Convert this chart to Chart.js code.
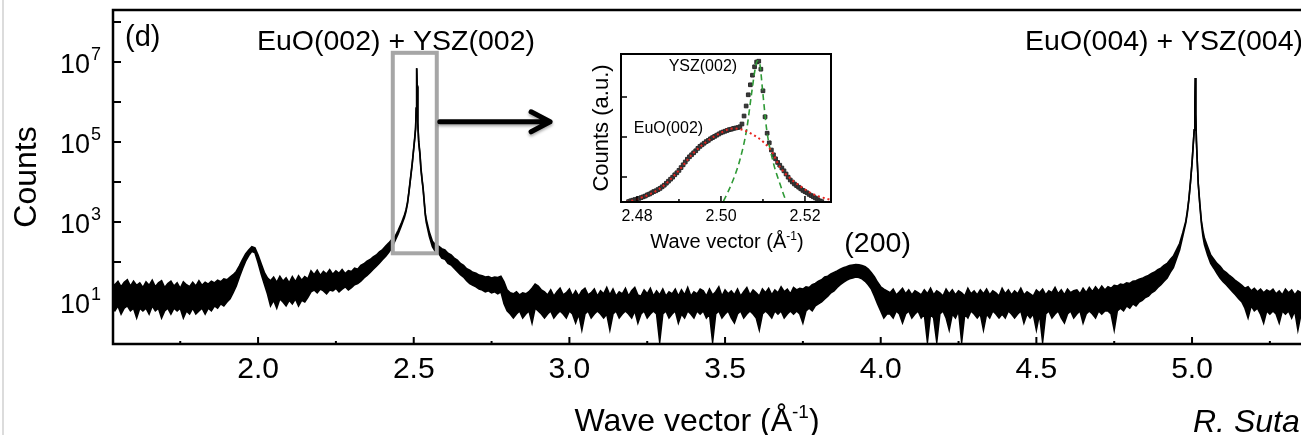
<!DOCTYPE html>
<html>
<head>
<meta charset="utf-8">
<script src="https://cdn.jsdelivr.net/npm/chart.js@4.4.0/dist/chart.umd.min.js"></script>
<style>
  html, body { margin: 0; padding: 0; background: #fff; }
  #wrap { position: relative; width: 1301px; height: 435px; overflow: hidden; }
  #edge { position: absolute; left: 2px; top: 0; width: 2px; height: 435px; background: #dcdcdc; }
  #main { position: absolute; left: 0; top: 0; }
  #inset { position: absolute; left: 575px; top: 48px; }
</style>
</head>
<body>
<div id="wrap">
  <div id="edge"></div>
  <canvas id="main" width="1301" height="435"></canvas>
  <canvas id="inset" width="265" height="205"></canvas>
</div>
<script>
// main scan: wave vector (1/A) with upper and lower edge of the noisy count band
const waveVector = [
  1.53,
  1.54, 1.55, 1.56, 1.57, 1.58, 1.59, 1.60, 1.61, 1.62, 1.63,
  1.64, 1.65, 1.66, 1.67, 1.68, 1.69, 1.70, 1.71, 1.72, 1.73,
  1.74, 1.75, 1.76, 1.77, 1.78, 1.79, 1.80, 1.81, 1.82, 1.83,
  1.84, 1.85, 1.86, 1.87, 1.88, 1.89, 1.90, 1.91, 1.92, 1.93,
  1.94, 1.95, 1.96, 1.97, 1.98, 1.99, 2.00, 2.01, 2.02, 2.03,
  2.04, 2.05, 2.06, 2.07, 2.08, 2.09, 2.10, 2.11, 2.12, 2.13,
  2.14, 2.15, 2.16, 2.17, 2.18, 2.19, 2.20, 2.21, 2.22, 2.23,
  2.24, 2.25, 2.26, 2.27, 2.28, 2.29, 2.30, 2.31, 2.32, 2.33,
  2.34, 2.35, 2.36, 2.37, 2.38, 2.39, 2.40, 2.41, 2.42, 2.43,
  2.44, 2.45, 2.46, 2.47, 2.475, 2.48, 2.485, 2.49, 2.495, 2.50,
  2.503, 2.506, 2.508, 2.5095, 2.511, 2.513, 2.516, 2.52, 2.523, 2.527,
  2.53, 2.537, 2.54, 2.55, 2.56, 2.57,
  2.58, 2.59, 2.60, 2.61, 2.62, 2.63, 2.64, 2.65, 2.66, 2.67,
  2.68, 2.69, 2.70, 2.71, 2.72, 2.73, 2.74, 2.75, 2.76, 2.77,
  2.78, 2.79, 2.80, 2.81, 2.82, 2.83, 2.84, 2.85, 2.86, 2.87,
  2.88, 2.89, 2.90, 2.91, 2.92,
  2.93, 2.94, 2.95, 2.96, 2.97, 2.98, 2.99, 3.00, 3.01, 3.02,
  3.03, 3.04, 3.05, 3.06, 3.07, 3.08, 3.09, 3.10, 3.11, 3.12,
  3.13, 3.14, 3.15, 3.16, 3.17, 3.18, 3.19, 3.20, 3.21, 3.22,
  3.23, 3.24, 3.25, 3.26, 3.27, 3.28, 3.29, 3.30, 3.31, 3.32,
  3.33, 3.34, 3.35, 3.36, 3.37, 3.38, 3.39, 3.40, 3.41, 3.42,
  3.43, 3.44, 3.45, 3.46, 3.47, 3.48, 3.49, 3.50, 3.51, 3.52,
  3.53, 3.54, 3.55, 3.56, 3.57, 3.58, 3.59, 3.60, 3.61, 3.62,
  3.63, 3.64, 3.65, 3.66, 3.67, 3.68, 3.69, 3.70, 3.71, 3.72,
  3.73, 3.74, 3.75, 3.76, 3.77, 3.78, 3.79, 3.80, 3.81, 3.82,
  3.83, 3.84, 3.85, 3.86, 3.87, 3.88, 3.89, 3.90, 3.91, 3.92,
  3.93, 3.94, 3.95, 3.96, 3.97, 3.98, 3.99, 4.00, 4.01, 4.02,
  4.03, 4.04, 4.05, 4.06, 4.07, 4.08, 4.09, 4.10, 4.11, 4.12,
  4.13, 4.14, 4.15, 4.16, 4.17, 4.18, 4.19, 4.20, 4.21, 4.22,
  4.23, 4.24, 4.25, 4.26, 4.27, 4.28, 4.29, 4.30, 4.31, 4.32,
  4.33, 4.34, 4.35, 4.36, 4.37, 4.38, 4.39, 4.40, 4.41, 4.42,
  4.43, 4.44, 4.45, 4.46, 4.47, 4.48, 4.49, 4.50, 4.51, 4.52,
  4.53, 4.54, 4.55, 4.56, 4.57, 4.58, 4.59, 4.60, 4.61, 4.62,
  4.63, 4.64, 4.65, 4.66, 4.67, 4.68, 4.69, 4.70, 4.71, 4.72,
  4.73, 4.74, 4.75, 4.76, 4.77, 4.78, 4.79, 4.80, 4.81, 4.82,
  4.83, 4.84, 4.85, 4.86, 4.87, 4.88, 4.89, 4.90, 4.91, 4.92,
  4.93, 4.94, 4.95, 4.96, 4.97, 4.98, 4.985, 4.99, 4.995, 5.00,
  5.004, 5.007, 5.009, 5.0105, 5.012, 5.014, 5.017, 5.02, 5.025, 5.03,
  5.035, 5.04, 5.05, 5.06, 5.07, 5.08, 5.09, 5.10, 5.11, 5.12,
  5.13, 5.14, 5.15,
  5.16, 5.17, 5.18, 5.19, 5.20, 5.21, 5.22, 5.23, 5.24, 5.25,
  5.26, 5.27, 5.28, 5.29, 5.30, 5.31, 5.32, 5.33, 5.34, 5.35
];
const countsHigh = [
  28,
  27, 33, 24, 31, 36, 25, 33, 26, 30, 23,
  32, 26, 35, 24, 30, 34, 23, 29, 33, 25,
  30, 22, 32, 27, 24, 31, 25, 34, 26, 31,
  28, 33, 30, 35, 32, 38, 36, 42, 48, 58,
  80, 115, 160, 200, 240, 225, 150, 90, 55, 40,
  34, 42, 31, 44, 33, 40, 30, 43, 32, 45,
  35, 43, 38, 60, 48, 62, 46, 58, 50, 64,
  49, 60, 52, 65, 51, 61, 58, 70, 66, 82,
  90, 105, 115, 135, 150, 180, 205, 250, 300, 370,
  430, 620, 920, 1500, 2000, 3100, 6200, 13500, 29000, 72000,
  125000, 230000, 720000, 7000000, 2600000, 310000, 105000, 52000, 23000, 11500,
  7300, 1700, 1200, 560, 330, 270,
  250, 215, 200, 165, 150, 125, 112, 92, 82, 68,
  62, 55, 52, 47, 45, 42, 43, 40, 42, 41,
  44, 32, 20, 17, 16, 18, 15, 17, 16, 18,
  22, 28, 25, 20, 18,
  15, 20, 14, 18, 22, 15, 17, 21, 14, 19,
  14, 19, 22, 15, 17, 21, 14, 19, 16, 23,
  15, 21, 14, 18, 16, 22, 14, 19, 23, 15,
  14, 20, 16, 22, 14, 19, 15, 21, 14, 18,
  16, 21, 14, 20, 15, 23, 14, 18, 16, 21,
  19, 14, 21, 15, 18, 24, 14, 20, 16, 19,
  15, 21, 14, 18, 23, 15, 20, 17, 14, 21,
  17, 22, 15, 20, 17, 24, 18, 21, 16, 23,
  20, 22, 21, 24, 23, 27, 29, 33, 36, 42,
  44, 50, 55, 60, 66, 72, 76, 82, 84, 86,
  85, 82, 76, 66, 54, 42, 31, 24, 21, 19,
  17, 21, 15, 18, 22, 16, 20, 15, 19, 17,
  15, 20, 16, 22, 15, 19, 17, 14, 21, 16,
  20, 15, 19, 17, 14, 22, 16, 19, 15, 20,
  16, 21, 15, 19, 17, 14, 22, 16, 20, 15,
  19, 16, 22, 15, 18, 16, 14, 20, 17, 21,
  15, 19, 17, 23, 16, 20, 15, 21, 17, 19,
  20, 16, 22, 17, 23, 18, 24, 19, 25, 20,
  24, 22, 26, 25, 28, 27, 30, 29, 33, 34,
  37, 39, 43, 46, 52, 56, 64, 70, 82, 92,
  115, 140, 200, 290, 530, 1050, 1900, 3900, 10200, 30500,
  91000, 202000, 805000, 4000000, 510000, 112000, 30500, 9200, 2900, 1080,
  600, 390, 240, 150, 118, 92, 78, 62, 54, 46,
  40, 34, 30,
  26, 22, 24, 19, 22, 18, 21, 17, 20, 18,
  21, 16, 19, 15, 21, 17, 20, 15, 19, 17
];
const countsLow = [
  7,
  6, 8, 5, 7, 8, 6, 7, 4, 7, 6,
  7, 5, 8, 6, 7, 4, 6, 7, 5, 7,
  6, 7, 4, 6, 5, 7, 5, 6, 7, 5,
  7, 6, 8, 7, 9, 8, 10, 12, 17, 25,
  42, 68, 105, 145, 185, 170, 95, 50, 28, 16,
  8, 11, 7, 12, 10, 8, 11, 9, 12, 8,
  11, 10, 13, 18, 20, 17, 21, 19, 16, 20,
  19, 22, 18, 21, 24, 20, 23, 27, 29, 33,
  40, 46, 55, 66, 78, 95, 115, 140, 175, 230,
  340, 500, 800, 1300, 1800, 2900, 5800, 12500, 27000, 68000,
  115000, 210000, 680000, 7000000, 2400000, 290000, 95000, 48000, 21000, 10500,
  6700, 1500, 1000, 440, 240, 180,
  165, 125, 118, 92, 84, 70, 58, 48, 42, 34,
  29, 26, 24, 21, 20, 18, 19, 17, 18, 16,
  18, 9, 6, 5, 4, 5, 6, 4, 5, 6,
  3, 7, 6, 5, 4,
  5, 6, 4, 5, 6, 5, 4, 6, 5, 3,
  5, 2, 5, 6, 4, 5, 6, 5, 4, 5,
  2, 5, 6, 4, 5, 6, 5, 4, 6, 3,
  5, 6, 4, 5, 6, 5, 1, 5, 6, 4,
  5, 6, 3, 5, 4, 6, 5, 4, 6, 5,
  6, 4, 5, 1, 5, 6, 4, 5, 6, 4,
  3, 5, 6, 4, 5, 6, 5, 4, 2, 5,
  6, 5, 4, 6, 5, 6, 4, 5, 6, 5,
  6, 5, 3, 6, 7, 6, 8, 9, 10, 12,
  14, 17, 19, 23, 27, 31, 35, 38, 40, 42,
  41, 38, 33, 27, 21, 14, 9, 6, 4, 5,
  5, 4, 6, 5, 3, 5, 6, 4, 5, 6,
  4, 5, 1, 5, 4, 1, 5, 6, 4, 2,
  5, 4, 6, 1, 5, 4, 6, 5, 4, 5,
  2, 5, 4, 6, 5, 4, 5, 4, 6, 5,
  4, 5, 6, 3, 5, 4, 5, 2, 5, 1,
  5, 6, 4, 5, 6, 4, 3, 5, 6, 4,
  5, 6, 3, 5, 6, 5, 4, 6, 5, 6,
  6, 5, 2, 6, 7, 6, 8, 7, 9, 8,
  10, 11, 13, 14, 17, 19, 23, 27, 33, 40,
  55, 72, 120, 200, 430, 950, 1700, 3700, 9800, 29500,
  89000, 198000, 795000, 4000000, 490000, 108000, 29500, 8800, 2700, 920,
  440, 270, 150, 92, 70, 52, 40, 32, 27, 22,
  18, 15, 12,
  10, 7, 4, 8, 6, 7, 5, 3, 6, 5,
  6, 5, 3, 6, 5, 6, 4, 6, 2, 5
];
if (waveVector.length !== countsHigh.length || waveVector.length !== countsLow.length) {
  throw new Error('main data length ' + waveVector.length + ' / ' + countsHigh.length + ' / ' + countsLow.length);
}

const xLabelTicks = [2.0, 2.5, 3.0, 3.5, 4.0, 4.5, 5.0];
const xMinorTicks = [1.75, 2.25, 2.75, 3.25, 3.75, 4.25, 4.75, 5.25];
const yTickExponents = [1, 2, 3, 4, 5, 6, 7, 8];
const yLabelExponents = [1, 3, 5, 7];

// inset: zoom on the (002) reflection, arbitrary units
const insetQ = [
  2.4780, 2.4785, 2.4790, 2.4795, 2.4800, 2.4805, 2.4810, 2.4815, 2.4820, 2.4825,
  2.4830, 2.4835, 2.4840, 2.4845, 2.4850, 2.4855, 2.4860, 2.4865, 2.4870, 2.4875,
  2.4880, 2.4885, 2.4890, 2.4895, 2.4900, 2.4905, 2.4910, 2.4915, 2.4920, 2.4925,
  2.4930, 2.4935, 2.4940, 2.4945, 2.4950, 2.4955, 2.4960, 2.4965, 2.4970, 2.4975,
  2.4980, 2.4985, 2.4990, 2.4995, 2.5000, 2.5005, 2.5010, 2.5015, 2.5020, 2.5025,
  2.5030, 2.5035, 2.5040, 2.5045, 2.5050, 2.5055, 2.5060, 2.5065, 2.5070, 2.5075,
  2.5080, 2.5085, 2.5090, 2.5095, 2.5100, 2.5105, 2.5110, 2.5115, 2.5120, 2.5125,
  2.5130, 2.5135, 2.5140, 2.5145, 2.5150, 2.5155, 2.5160, 2.5165, 2.5170, 2.5175,
  2.5180, 2.5185, 2.5190, 2.5195, 2.5200, 2.5205, 2.5210, 2.5215, 2.5220, 2.5225,
  2.5230, 2.5235, 2.5240
];
const insetMeasured = [
  0.01, 0.03, 0.045, 0.06, 0.07, 0.09, 0.11, 0.13, 0.15, 0.18,
  0.20, 0.23, 0.26, 0.28, 0.31, 0.34, 0.38, 0.42, 0.47, 0.52,
  0.57, 0.62, 0.68, 0.73, 0.79, 0.86, 0.93, 1.00, 1.07, 1.13,
  1.18, 1.23, 1.28, 1.34, 1.39, 1.43, 1.47, 1.51, 1.54, 1.58,
  1.61, 1.64, 1.67, 1.70, 1.73, 1.75, 1.77, 1.79, 1.81, 1.82,
  1.84, 1.85, 1.86, 1.88, 1.95, 2.15, 2.40, 2.68, 2.93, 3.17,
  3.38, 3.50, 3.52, 3.32, 2.78, 2.13, 1.72, 1.48, 1.30, 1.18,
  1.08, 0.99, 0.92, 0.85, 0.78, 0.70, 0.62, 0.55, 0.50, 0.45,
  0.41, 0.37, 0.33, 0.29, 0.26, 0.23, 0.19, 0.16, 0.13, 0.10,
  0.06, 0.03, 0.01
];
if (insetQ.length !== insetMeasured.length) throw new Error('inset data length ' + insetQ.length + ' vs ' + insetMeasured.length);

const euoFitQ = [2.4775, 2.4800, 2.4855, 2.4894, 2.4934, 2.4966, 2.4998, 2.5029, 2.5053, 2.5077, 2.5101, 2.5121, 2.5140, 2.5164, 2.5188, 2.5210, 2.5230, 2.5252, 2.5262];
const euoFit = [0.0, 0.07, 0.34, 0.72, 1.22, 1.51, 1.72, 1.84, 1.80, 1.68, 1.50, 1.26, 0.88, 0.60, 0.40, 0.25, 0.15, 0.08, 0.05];
const yszFitQ = [2.4995, 2.5005, 2.5029, 2.5045, 2.5061, 2.5073, 2.5081, 2.5087, 2.5093, 2.5099, 2.5109, 2.5125, 2.5140, 2.5156, 2.5166];
const yszFit = [-0.2, 0.0, 0.55, 1.05, 1.80, 2.72, 3.30, 3.53, 3.42, 2.80, 1.80, 0.97, 0.47, 0.0, -0.2];

const insetXLabels = [2.48, 2.50, 2.52];
const insetXMinor = [2.49, 2.51];
const insetYTicks = [0.625, 1.625, 2.625];

const FONT = '"Liberation Sans", Arial, sans-serif';

function drawSupText(ctx, base, sup, tail, cx, baseline, size) {
  ctx.font = size + 'px ' + FONT;
  const w1 = ctx.measureText(base).width;
  const w3 = ctx.measureText(tail).width;
  ctx.font = Math.round(size * 0.6) + 'px ' + FONT;
  const w2 = ctx.measureText(sup).width;
  let x0 = cx - (w1 + w2 + w3) / 2;
  ctx.textAlign = 'left';
  ctx.textBaseline = 'alphabetic';
  ctx.font = size + 'px ' + FONT;
  ctx.fillText(base, x0, baseline);
  ctx.font = Math.round(size * 0.6) + 'px ' + FONT;
  ctx.fillText(sup, x0 + w1, baseline - size * 0.4);
  ctx.font = size + 'px ' + FONT;
  ctx.fillText(tail, x0 + w1 + w2, baseline);
}

const mainDecor = {
  id: 'mainDecor',
  afterDraw(chart) {
    const { ctx, chartArea: a, scales: { x, y } } = chart;
    ctx.save();
    ctx.strokeStyle = '#000';
    ctx.fillStyle = '#000';
    ctx.lineWidth = 2.5;
    ctx.beginPath();
    ctx.moveTo(a.right, a.top); ctx.lineTo(a.left, a.top);
    ctx.lineTo(a.left, a.bottom); ctx.lineTo(a.right, a.bottom);
    ctx.stroke();

    // inward ticks
    ctx.lineWidth = 2;
    ctx.beginPath();
    xLabelTicks.forEach(v => { const px = x.getPixelForValue(v); ctx.moveTo(px, a.bottom); ctx.lineTo(px, a.bottom - 7); });
    xMinorTicks.forEach(v => { const px = x.getPixelForValue(v); ctx.moveTo(px, a.bottom); ctx.lineTo(px, a.bottom - 3); });
    yTickExponents.forEach(e => { const py = y.getPixelForValue(Math.pow(10, e)); ctx.moveTo(a.left, py); ctx.lineTo(a.left + 8, py); });
    ctx.stroke();

    // y tick labels 10^n
    yLabelExponents.forEach(e => {
      const py = y.getPixelForValue(Math.pow(10, e));
      ctx.textAlign = 'right';
      ctx.textBaseline = 'alphabetic';
      ctx.font = '27px ' + FONT;
      ctx.fillText('10', a.left - 23, py + 11);
      ctx.textAlign = 'left';
      ctx.font = '18px ' + FONT;
      ctx.fillText(String(e), a.left - 22, py - 2);
    });

    // axis titles
    ctx.save();
    ctx.translate(27, (a.top + a.bottom) / 2);
    ctx.rotate(-Math.PI / 2);
    ctx.textAlign = 'center';
    ctx.textBaseline = 'middle';
    ctx.font = '32px ' + FONT;
    ctx.fillText('Counts', 0, 0);
    ctx.restore();
    drawSupText(ctx, 'Wave vector (\u00C5', '-1', ')', 697, 431, 32);

    ctx.textAlign = 'left';
    ctx.textBaseline = 'alphabetic';
    ctx.font = 'italic 32px ' + FONT;
    ctx.fillText('R. Suta', 1193, 432);

    // panel label and peak labels
    ctx.font = '29px ' + FONT;
    ctx.fillText('(d)', a.left + 12, 46);
    ctx.textAlign = 'center';
    ctx.font = '28.5px ' + FONT;
    ctx.fillText('EuO(002) + YSZ(002)', x.getPixelForValue(2.443), y.getPixelForValue(2e7));
    ctx.fillText('EuO(004) + YSZ(004)', x.getPixelForValue(4.91), y.getPixelForValue(2e7));
    ctx.fillText('(200)', x.getPixelForValue(3.99), y.getPixelForValue(178));

    // grey zoom box around the (002) peak
    const bx0 = x.getPixelForValue(2.4327), bx1 = x.getPixelForValue(2.574);
    const by0 = y.getPixelForValue(1.7e7), by1 = y.getPixelForValue(165);
    ctx.strokeStyle = '#a6a6a6';
    ctx.lineWidth = 4;
    ctx.strokeRect(bx0, by0, bx1 - bx0, by1 - by0);

    // arrow to the inset
    const ay = y.getPixelForValue(3.2e5);
    const ax1 = x.getPixelForValue(2.938);
    ctx.strokeStyle = '#000';
    ctx.lineWidth = 5;
    ctx.lineCap = 'round';
    ctx.lineJoin = 'round';
    ctx.shadowColor = 'rgba(0,0,0,0.35)';
    ctx.shadowBlur = 3;
    ctx.shadowOffsetY = 2;
    ctx.beginPath();
    ctx.moveTo(bx1 + 3, ay); ctx.lineTo(ax1, ay);
    ctx.moveTo(ax1 - 19, ay - 10); ctx.lineTo(ax1, ay); ctx.lineTo(ax1 - 19, ay + 10);
    ctx.stroke();
    ctx.restore();
  }
};

new Chart(document.getElementById('main').getContext('2d'), {
  type: 'scatter',
  data: {
    datasets: [
      {
        data: waveVector.map((q, i) => ({ x: q, y: countsHigh[i] })),
        showLine: true,
        borderColor: '#000',
        borderWidth: 1.6,
        pointRadius: 0,
        tension: 0
      },
      {
        data: waveVector.map((q, i) => ({ x: q, y: countsLow[i] })),
        showLine: true,
        borderColor: '#000',
        borderWidth: 1.6,
        backgroundColor: '#000',
        fill: '-1',
        pointRadius: 0,
        tension: 0
      }
    ]
  },
  options: {
    responsive: false,
    animation: false,
    layout: { padding: { top: 10, right: 0, left: 0, bottom: 0 } },
    plugins: { legend: { display: false }, tooltip: { enabled: false } },
    scales: {
      x: {
        type: 'linear', min: 1.534, max: 5.35,
        grid: { display: false }, border: { display: false },
        afterBuildTicks: s => { s.ticks = xLabelTicks.map(v => ({ value: v })); },
        ticks: { font: { family: FONT, size: 30 }, color: '#000', padding: 0, maxRotation: 0, autoSkip: false, callback: v => v.toFixed(1) },
        afterFit: s => { s.height = 91; }
      },
      y: {
        type: 'logarithmic', min: 0.89, max: 2e8,
        grid: { display: false }, border: { display: false },
        ticks: { display: false },
        afterFit: s => { s.width = 113; }
      }
    }
  },
  plugins: [mainDecor]
});

const insetDecor = {
  id: 'insetDecor',
  afterDraw(chart) {
    const { ctx, chartArea: a, scales: { x, y } } = chart;
    ctx.save();
    ctx.strokeStyle = '#000';
    ctx.fillStyle = '#000';
    ctx.lineWidth = 2;
    ctx.strokeRect(a.left, a.top, a.right - a.left, a.bottom - a.top);
    ctx.lineWidth = 1.5;
    ctx.beginPath();
    insetXLabels.forEach(v => { const px = x.getPixelForValue(v); ctx.moveTo(px, a.bottom); ctx.lineTo(px, a.bottom - 6); });
    insetXMinor.forEach(v => { const px = x.getPixelForValue(v); ctx.moveTo(px, a.bottom); ctx.lineTo(px, a.bottom - 3); });
    insetYTicks.forEach(v => { const py = y.getPixelForValue(v); ctx.moveTo(a.left, py); ctx.lineTo(a.left + 6, py); });
    ctx.stroke();

    ctx.save();
    ctx.translate(27, (a.top + a.bottom) / 2);
    ctx.rotate(-Math.PI / 2);
    ctx.textAlign = 'center';
    ctx.textBaseline = 'middle';
    ctx.font = '22px ' + FONT;
    ctx.fillText('Counts (a.u.)', 0, 0);
    ctx.restore();
    drawSupText(ctx, 'Wave vector (\u00C5', '-1', ')', 152, 200, 20);

    ctx.textAlign = 'center';
    ctx.textBaseline = 'middle';
    ctx.font = '16px ' + FONT;
    ctx.fillText('YSZ(002)', x.getPixelForValue(2.4957), y.getPixelForValue(3.375));
    ctx.fillText('EuO(002)', x.getPixelForValue(2.4875), y.getPixelForValue(1.84));
    ctx.restore();
  }
};

new Chart(document.getElementById('inset').getContext('2d'), {
  type: 'scatter',
  data: {
    datasets: [
      {
        data: insetQ.map((q, i) => ({ x: q, y: insetMeasured[i] })),
        showLine: false,
        pointStyle: 'rect',
        pointRadius: 2.6,
        backgroundColor: '#3a3a3a',
        borderColor: '#2a2a2a',
        borderWidth: 1,
        order: 3
      },
      {
        data: euoFitQ.map((q, i) => ({ x: q, y: euoFit[i] })),
        showLine: true,
        borderColor: '#e8231e',
        borderWidth: 2,
        borderDash: [2, 3],
        pointRadius: 0,
        cubicInterpolationMode: 'monotone',
        order: 1
      },
      {
        data: yszFitQ.map((q, i) => ({ x: q, y: yszFit[i] })),
        showLine: true,
        borderColor: '#2f9a36',
        borderWidth: 1.6,
        borderDash: [6, 4],
        pointRadius: 0,
        cubicInterpolationMode: 'monotone',
        order: 2
      }
    ]
  },
  options: {
    responsive: false,
    animation: false,
    layout: { padding: { top: 6, right: 9, left: 0, bottom: 0 } },
    plugins: { legend: { display: false }, tooltip: { enabled: false } },
    scales: {
      x: {
        type: 'linear', min: 2.4762, max: 2.5262,
        grid: { display: false }, border: { display: false },
        afterBuildTicks: s => { s.ticks = insetXLabels.map(v => ({ value: v })); },
        ticks: { font: { family: FONT, size: 16 }, color: '#000', padding: -3, maxRotation: 0, autoSkip: false, callback: v => v.toFixed(2) },
        afterFit: s => { s.height = 51; }
      },
      y: {
        type: 'linear', min: 0, max: 3.7,
        grid: { display: false }, border: { display: false },
        ticks: { display: false },
        afterFit: s => { s.width = 46; }
      }
    }
  },
  plugins: [insetDecor]
});
</script>
</body>
</html>
